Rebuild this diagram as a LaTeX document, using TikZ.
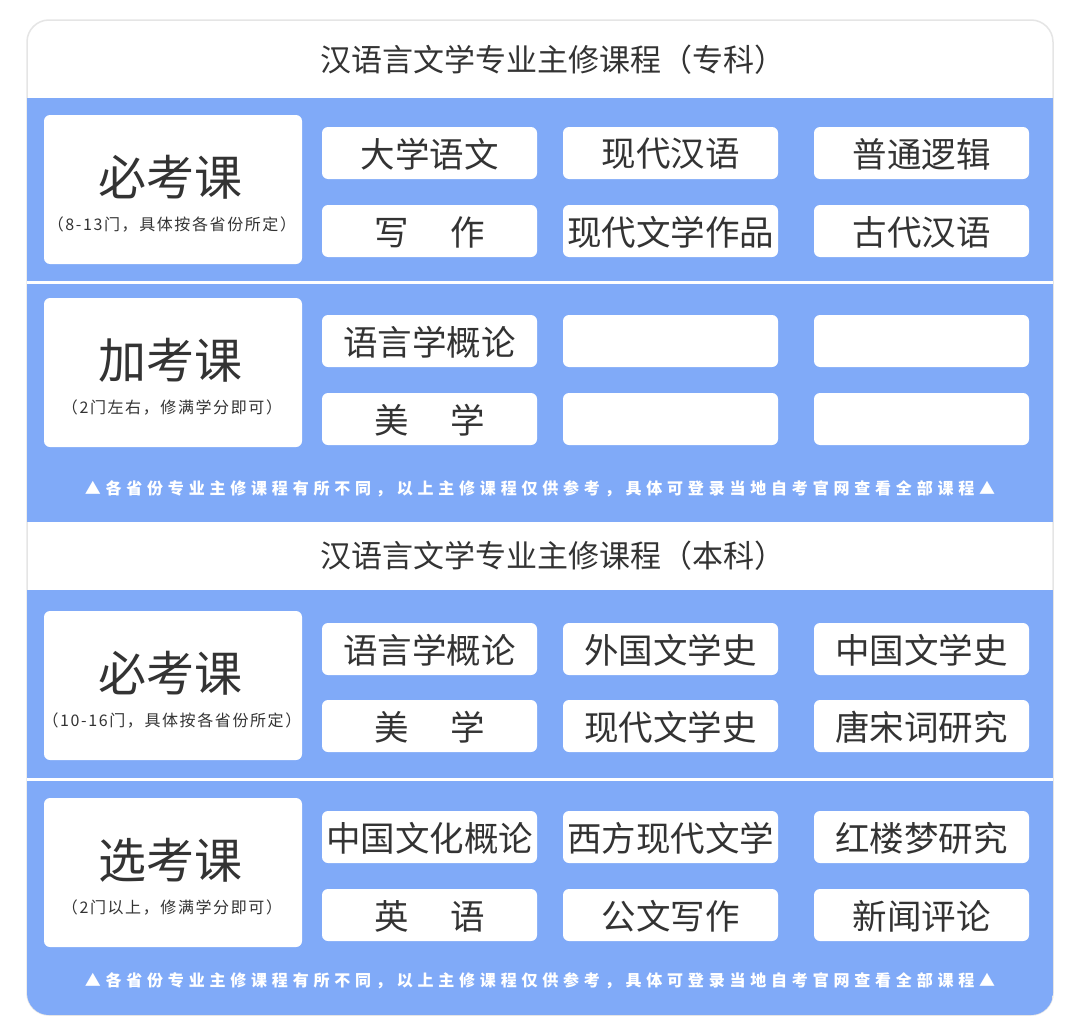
\documentclass[tikz,border=0pt]{standalone}
\usepackage{fontspec}
\newfontfamily\cjk{Noto Sans CJK SC}
\definecolor{bl}{HTML}{80AAF8}
\definecolor{tx}{HTML}{333333}
\begin{document}
\begin{tikzpicture}[x=1pt,y=-1pt,font=\cjk,text=tx,
 card/.style={fill=white,rounded corners=6pt},
 course/.style={font=\cjk\fontsize{34.5}{38}\selectfont,text=tx},
 big/.style={font=\cjk\fontsize{48}{52}\selectfont,text=tx},
 small/.style={font=\cjk\fontsize{16}{18}\selectfont\addfontfeature{LetterSpace=10},text=tx},
 note/.style={font=\cjk\bfseries\fontsize{16}{18}\selectfont,text=white},
 ttl/.style={font=\cjk\fontsize{31}{34}\selectfont,text=tx}]
\useasboundingbox (0,0) rectangle (1080,1036);
\fill[white] (0,0) rectangle (1080,1036);
\draw[black!10,line width=1.5pt,rounded corners=22pt] (27,20) rectangle (1053,1015);
\begin{scope}
\clip[rounded corners=22pt] (27,20) rectangle (1053,1015);
\fill[bl] (27,98) rectangle (1053,522);
\fill[bl] (27,590) rectangle (1053,1015);
\fill[white] (27,281) rectangle (1053,284);
\fill[white] (27,778) rectangle (1053,781);
\end{scope}
\node[ttl] (t1) at (553,60) {汉语言文学专业主修课程（专科）};
\node[ttl] (t2) at (553,556) {汉语言文学专业主修课程（本科）};
% left boxes
\newcommand\lbox[4]{\fill[card] (44,#1) rectangle (302,#1+149);
 \node[big] (#4a) at (170,#1+62) {#2};
 \node[small] (#4b) at (172,#1+110) {#3};}
\lbox{115}{必考课}{（8-13门，具体按各省份所定）}{l1}
\lbox{298}{加考课}{（2门左右，修满学分即可）}{l2}
\lbox{611}{必考课}{（10-16门，具体按各省份所定）}{l3}
\lbox{798}{选考课}{（2门以上，修满学分即可）}{l4}
\newcommand\cbox[3]{\fill[card] (#1,#2) rectangle (#1+215,#2+52);
 \node[course] (c#1#2) at (#1+107.5,#2+27) {#3};}
\cbox{322}{127}{大学语文}\cbox{563}{127}{现代汉语}\cbox{814}{127}{普通逻辑}
\cbox{322}{205}{写\hspace{1.2em}作}\cbox{563}{205}{现代文学作品}\cbox{814}{205}{古代汉语}
\cbox{322}{315}{语言学概论}\cbox{563}{315}{}\cbox{814}{315}{}
\cbox{322}{393}{美\hspace{1.2em}学}\cbox{563}{393}{}\cbox{814}{393}{}
\cbox{322}{623}{语言学概论}\cbox{563}{623}{外国文学史}\cbox{814}{623}{中国文学史}
\cbox{322}{700}{美\hspace{1.2em}学}\cbox{563}{700}{现代文学史}\cbox{814}{700}{唐宋词研究}
\cbox{322}{811}{中国文化概论}\cbox{563}{811}{西方现代文学}\cbox{814}{811}{红楼梦研究}
\cbox{322}{889}{英\hspace{1.2em}语}\cbox{563}{889}{公文写作}\cbox{814}{889}{新闻评论}
\node[note] (n1) at (540,489) {\addfontfeature{LetterSpace=30}▲各省份专业主修课程有所不同，以上主修课程仅供参考，具体可登录当地自考官网查看全部课程▲};
\node[note] (n2) at (540,981) {\addfontfeature{LetterSpace=30}▲各省份专业主修课程有所不同，以上主修课程仅供参考，具体可登录当地自考官网查看全部课程▲};
\end{tikzpicture}
\end{document}
